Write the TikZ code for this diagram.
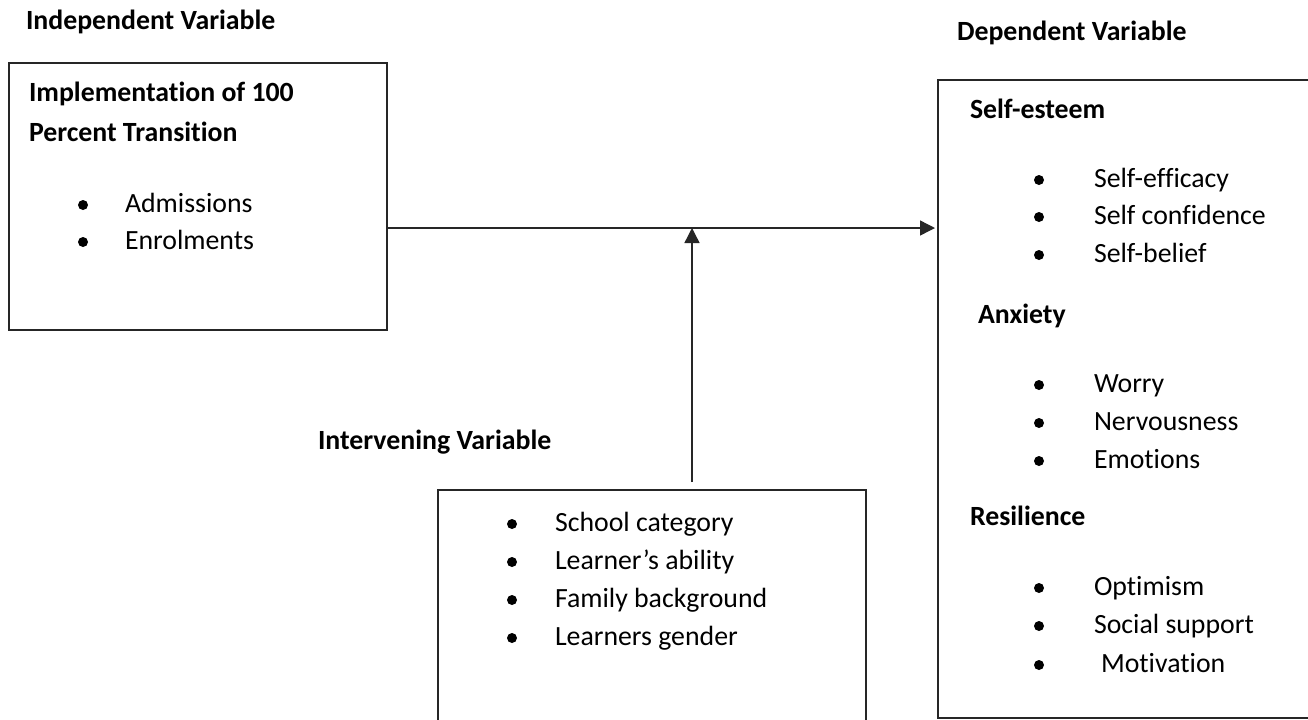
\documentclass[tikz,border=0pt]{standalone}
\usepackage{fontspec}
\setmainfont{Carlito}[RawFeature={-liga;-clig}]
\usetikzlibrary{arrows.meta}
\begin{document}
\begin{tikzpicture}[x=0.5pt,y=-0.5pt,
  every node/.style={inner sep=0pt, outer sep=0pt, font=\fontsize{13.9pt}{16pt}\selectfont},
  txt/.style={anchor=base west},
  head/.style={anchor=base west, font=\fontsize{13.9pt}{16pt}\selectfont\bfseries},
  frame/.style={draw=black!85, line width=0.8pt, rectangle, inner sep=0pt},
  conn/.style={draw=black!85, line width=0.7pt, -{Triangle[length=7.5pt,width=7.5pt]}}]
\clip (0,0) rectangle (1308,719);
\fill[white] (0,0) rectangle (1308,719);
% boxes
\node[frame, minimum width=189pt, minimum height=133.5pt] (ind) at (198,196.5) {};
\node[frame, minimum width=214pt, minimum height=155pt] (inter) at (652,645) {};
\node[frame, minimum width=201pt, minimum height=319pt] (dep) at (1139,399) {};
% headings
\node[head] (hind) at (26,29) {Independent Variable};
\node[head] (hdep) at (957,40) {Dependent Variable};
\node[head] (hint) at (318,449) {Intervening Variable};
% left box
\node[head] (imp1) at (29,101) {Implementation of 100};
\node[head] (imp2) at (29,141) {Percent Transition};
\foreach \t/\yy in {Admissions/212, Enrolments/249}{
  \fill (83,\yy-7) circle (2.5pt);
  \node[txt] (l\yy) at (125,\yy) {\t};
}
% bottom box
\foreach \t/\yy in {School category/531, Learner’s ability/569, Family background/607, Learners gender/645}{
  \fill (512,\yy-7) circle (2.5pt);
  \node[txt] (b\yy) at (555,\yy) {\t};
}
% right box
\node[head] (se) at (970,118) {Self-esteem};
\node[head] (an) at (978,323) {Anxiety};
\node[head] (re) at (970,525) {Resilience};
\foreach \t/\yy in {Self-efficacy/187, Self confidence/224, Self-belief/262, Worry/392, Nervousness/430, Emotions/468, Optimism/595, Social support/633}{
  \fill (1039,\yy-7) circle (2.5pt);
  \node[txt] (r\yy) at (1094,\yy) {\t};
}
\fill (1039,665) circle (2.5pt);
\node[txt] (r672) at (1101,672) {Motivation};
% connectors
\coordinate (hy) at (0,228);
\coordinate (vx) at (692,0);
\draw[conn, shorten >=1.5pt] (ind.east |- hy) -- (dep.west |- hy);
\draw[conn, shorten <=4pt] (inter.north -| vx) -- (vx |- hy);
\end{tikzpicture}
\end{document}
